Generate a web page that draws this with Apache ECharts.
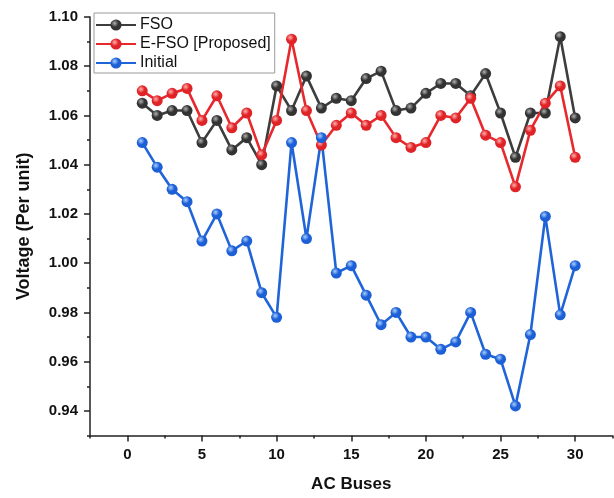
<!DOCTYPE html>
<html>
<head>
<meta charset="utf-8">
<script src="https://cdn.jsdelivr.net/npm/echarts@6/dist/echarts.min.js"></script>
<style>
  html, body { margin: 0; padding: 0; background: #fff; }
  #chart { width: 614px; height: 498px; }
</style>
</head>
<body>
<div id="chart"></div>
<script>
// bus numbers and voltages (per unit)
const buses = [1, 2, 3, 4, 5, 6, 7, 8, 9, 10, 11, 12, 13, 14, 15, 16, 17, 18, 19, 20, 21, 22, 23, 24, 25, 26, 27, 28, 29, 30];
const fso = [1.065, 1.060, 1.062, 1.062, 1.049, 1.058, 1.046, 1.051, 1.040, 1.072, 1.062, 1.076, 1.063, 1.067, 1.066, 1.075, 1.078, 1.062, 1.063, 1.069, 1.073, 1.073, 1.068, 1.077, 1.061, 1.043, 1.061, 1.061, 1.092, 1.059];
const efso = [1.070, 1.066, 1.069, 1.071, 1.058, 1.068, 1.055, 1.061, 1.044, 1.058, 1.091, 1.062, 1.048, 1.056, 1.061, 1.056, 1.060, 1.051, 1.047, 1.049, 1.060, 1.059, 1.067, 1.052, 1.049, 1.031, 1.054, 1.065, 1.072, 1.043];
const initial = [1.049, 1.039, 1.030, 1.025, 1.009, 1.020, 1.005, 1.009, 0.988, 0.978, 1.049, 1.010, 1.051, 0.996, 0.999, 0.987, 0.975, 0.980, 0.970, 0.970, 0.965, 0.968, 0.980, 0.963, 0.961, 0.942, 0.971, 1.019, 0.979, 0.999];

// axis ticks
const xTicks = [0, 5, 10, 15, 20, 25, 30];
const xMinorTicks = [-2.5, 2.5, 7.5, 12.5, 17.5, 22.5, 27.5, 32.5];
const yTicks = [0.94, 0.96, 0.98, 1.00, 1.02, 1.04, 1.06, 1.08, 1.10];
const yMinorTicks = [0.93, 0.95, 0.97, 0.99, 1.01, 1.03, 1.05, 1.07, 1.09];

const font = "'Liberation Sans', Arial, sans-serif";
const axisColor = "#222";

// 3d-looking ball marker
const ball = (light, dark) => ({
  type: "radial",
  x: 0.38,
  y: 0.35,
  r: 0.75,
  colorStops: [
    { offset: 0, color: light },
    { offset: 0.45, color: dark },
    { offset: 1, color: dark },
  ],
});

const makeSeries = (name, values, lineColor, light, dark) => ({
  name: name,
  type: "line",
  data: buses.map((b, i) => [b, values[i]]),
  symbol: "circle",
  symbolSize: 11,
  lineStyle: { color: lineColor, width: 2.6 },
  itemStyle: { color: ball(light, dark), borderWidth: 0 },
  emphasis: { disabled: true },
});

// extra axis that only draws tick marks
const tickAxis = (pos, min, max, values, len) => ({
  type: "value",
  position: pos,
  min: min,
  max: max,
  axisLine: { show: false, onZero: false },
  axisTick: { show: true, customValues: values, length: len, lineStyle: { color: axisColor, width: 1.5 } },
  axisLabel: { show: false },
  splitLine: { show: false },
});

const option = {
  animation: false,
  backgroundColor: "#fff",
  textStyle: { fontFamily: font },
  grid: { left: 90, right: 1.5, top: 17, bottom: 62.5, outerBoundsMode: "none" },
  legend: {
    left: 94,
    top: 13,
    orient: "vertical",
    itemWidth: 40,
    itemHeight: 14,
    itemGap: 3,
    padding: [4, 4, 2, 1],
    borderColor: "#9a9a9a",
    borderWidth: 1,
    textStyle: { fontFamily: font, fontSize: 16, color: "#111", lineHeight: 16, padding: [0, 0, 0, -1] },
    data: ["FSO", "E-FSO [Proposed]", "Initial"],
  },
  xAxis: [
    {
      type: "value",
      min: -2.5,
      max: 32.5,
      name: "AC Buses",
      nameLocation: "middle",
      nameGap: 40,
      nameTextStyle: { fontFamily: font, fontSize: 17, fontWeight: "bold", color: "#111" },
      axisLine: { show: true, onZero: false, lineStyle: { color: axisColor, width: 1.5 } },
      axisTick: { show: false },
      axisLabel: {
        customValues: xTicks,
        margin: 12,
        fontFamily: font,
        fontSize: 15,
        fontWeight: "bold",
        color: "#111",
      },
      splitLine: { show: false },
    },
    tickAxis("bottom", -2.5, 32.5, xTicks, 6),
    tickAxis("bottom", -2.5, 32.5, xMinorTicks, 3),
  ],
  yAxis: [
    {
      type: "value",
      min: 0.93,
      max: 1.1,
      name: "Voltage (Per unit)",
      nameLocation: "middle",
      nameRotate: 90,
      nameGap: 57,
      nameTextStyle: { fontFamily: font, fontSize: 18, fontWeight: "bold", color: "#111" },
      axisLine: { show: true, onZero: false, lineStyle: { color: axisColor, width: 1.5 } },
      axisTick: { show: false },
      axisLabel: {
        customValues: yTicks,
        margin: 12,
        fontFamily: font,
        fontSize: 15,
        fontWeight: "bold",
        color: "#111",
        formatter: (v) => v.toFixed(2),
      },
      splitLine: { show: false },
    },
    tickAxis("left", 0.93, 1.1, yTicks, 6),
    tickAxis("left", 0.93, 1.1, yMinorTicks, 3),
  ],
  series: [
    makeSeries("FSO", fso, "#3d3d3d", "#b0b0b0", "#333333"),
    makeSeries("E-FSO [Proposed]", efso, "#e8282c", "#ffb0b0", "#e02326"),
    makeSeries("Initial", initial, "#1f64d8", "#a8d0ff", "#1d5fd6"),
  ],
};

echarts.init(document.getElementById("chart")).setOption(option);
</script>
</body>
</html>
